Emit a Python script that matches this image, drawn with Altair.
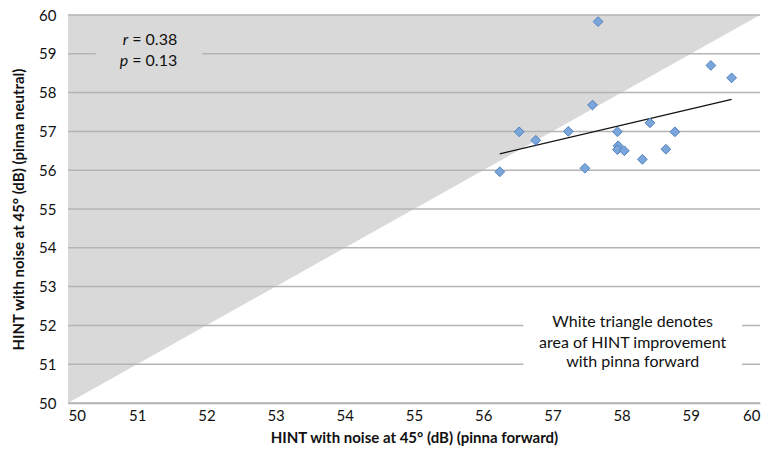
import altair as alt
import pandas as pd

# Data
forward = [57.66, 59.29, 59.59, 57.58, 56.52, 56.76, 57.23, 57.94, 58.41, 58.77,
           57.95, 57.94, 58.04, 58.64, 58.30, 57.47, 56.24]
neutral = [59.83, 58.70, 58.38, 57.68, 56.99, 56.77, 57.00, 56.99, 57.22, 56.99,
           56.63, 56.53, 56.50, 56.54, 56.28, 56.05, 55.96]
ticks = list(range(50, 61))
diag_x = [50, 60]
diag_y = [50, 60]

FONT = "Lato"
GRID = "#b4b4b4"

df = pd.DataFrame({"x": forward, "y": neutral})
tri = pd.DataFrame({"x": diag_x, "y": diag_y, "y2": [60, 60]})
grid = pd.DataFrame({"t": ticks})

xs = alt.Scale(domain=[50, 60], nice=False, zero=False)
ys = alt.Scale(domain=[50, 60], nice=False, zero=False)

xax = alt.Axis(values=ticks, format="d", grid=False, ticks=False, domainColor=GRID,
               domainWidth=1.5, labelOverlap=False,
               labelFont=FONT, labelFontSize=15, labelColor="#111", labelPadding=5,
               title="HINT with noise at 45° (dB) (pinna forward)", titleFont=FONT,
               titleFontSize=15, titleFontWeight="bold", titleColor="#111", titlePadding=7)
yax = alt.Axis(values=ticks, format="d", grid=False, ticks=False, domain=False,
               labelOverlap=False,
               labelFont=FONT, labelFontSize=15, labelColor="#111", labelPadding=12,
               title="HINT with noise at 45° (dB) (pinna neutral)", titleFont=FONT,
               titleFontSize=15, titleFontWeight="bold", titleColor="#111", titlePadding=12)

def X(f):
    return alt.X(f, scale=xs, axis=xax)

def Y(f):
    return alt.Y(f, scale=ys, axis=yax)

area = alt.Chart(tri).mark_area(color="#d9d9d9", opacity=1).encode(
    x=X("x:Q"), y=Y("y:Q"), y2="y2:Q",
)

rules = alt.Chart(grid).mark_rule(color=GRID, strokeWidth=1.5).encode(
    y=Y("t:Q"),
)

# annotation boxes (backgrounds hiding gridlines)
boxes = pd.DataFrame({
    "x1": [50.40, 56.58], "x2": [51.94, 59.74],
    "y1": [58.55, 50.85], "y2": [59.55, 52.35],
    "c": ["#d9d9d9", "#ffffff"],
})
box = alt.Chart(boxes).mark_rect().encode(
    x=X("x1:Q"), x2="x2:Q",
    y=Y("y1:Q"), y2="y2:Q",
    color=alt.Color("c:N", scale=None),
)

trend = alt.Chart(df).transform_regression("x", "y").mark_line(
    color="#111", strokeWidth=1.3).encode(x=X("x:Q"), y=Y("y:Q"))

pts = alt.Chart(df).mark_point(shape="diamond", filled=True, size=95,
                               fill="#7aa6dc", stroke="#4f81bd", strokeWidth=1,
                               opacity=1).encode(x=X("x:Q"), y=Y("y:Q"))

stats = pd.DataFrame({"x": [50.87, 50.87], "y": [59.36, 58.81],
                      "sym": ["r", "p"], "val": ["= 0.38", "= 0.13"]})
sym = alt.Chart(stats).mark_text(font=FONT, fontSize=16, fontStyle="italic",
                                 align="right", color="#111").encode(
    x=X("x:Q"), y=Y("y:Q"), text="sym:N")
val = alt.Chart(stats).mark_text(font=FONT, fontSize=16, align="left", dx=4,
                                 color="#111").encode(
    x=X("x:Q"), y=Y("y:Q"), text="val:N")

note = pd.DataFrame({"x": [58.16] * 3, "y": [52.09, 51.55, 51.06],
                     "t": ["White triangle denotes", "area of HINT improvement",
                           "with pinna forward"]})
notes = alt.Chart(note).mark_text(font=FONT, fontSize=16, color="#111").encode(
    x=X("x:Q"), y=Y("y:Q"), text="t:N")

chart = alt.layer(area, rules, box, trend, pts, sym, val, notes).properties(
    width=692, height=388,
    autosize=alt.AutoSizeParams(type="none"),
    padding={"left": 68, "top": 15, "right": 11, "bottom": 53},
    background="white",
).configure_view(stroke=None).configure_axis(labelOverlap=False)

chart.save("out.html", embed_options={"renderer": "svg", "actions": False})
